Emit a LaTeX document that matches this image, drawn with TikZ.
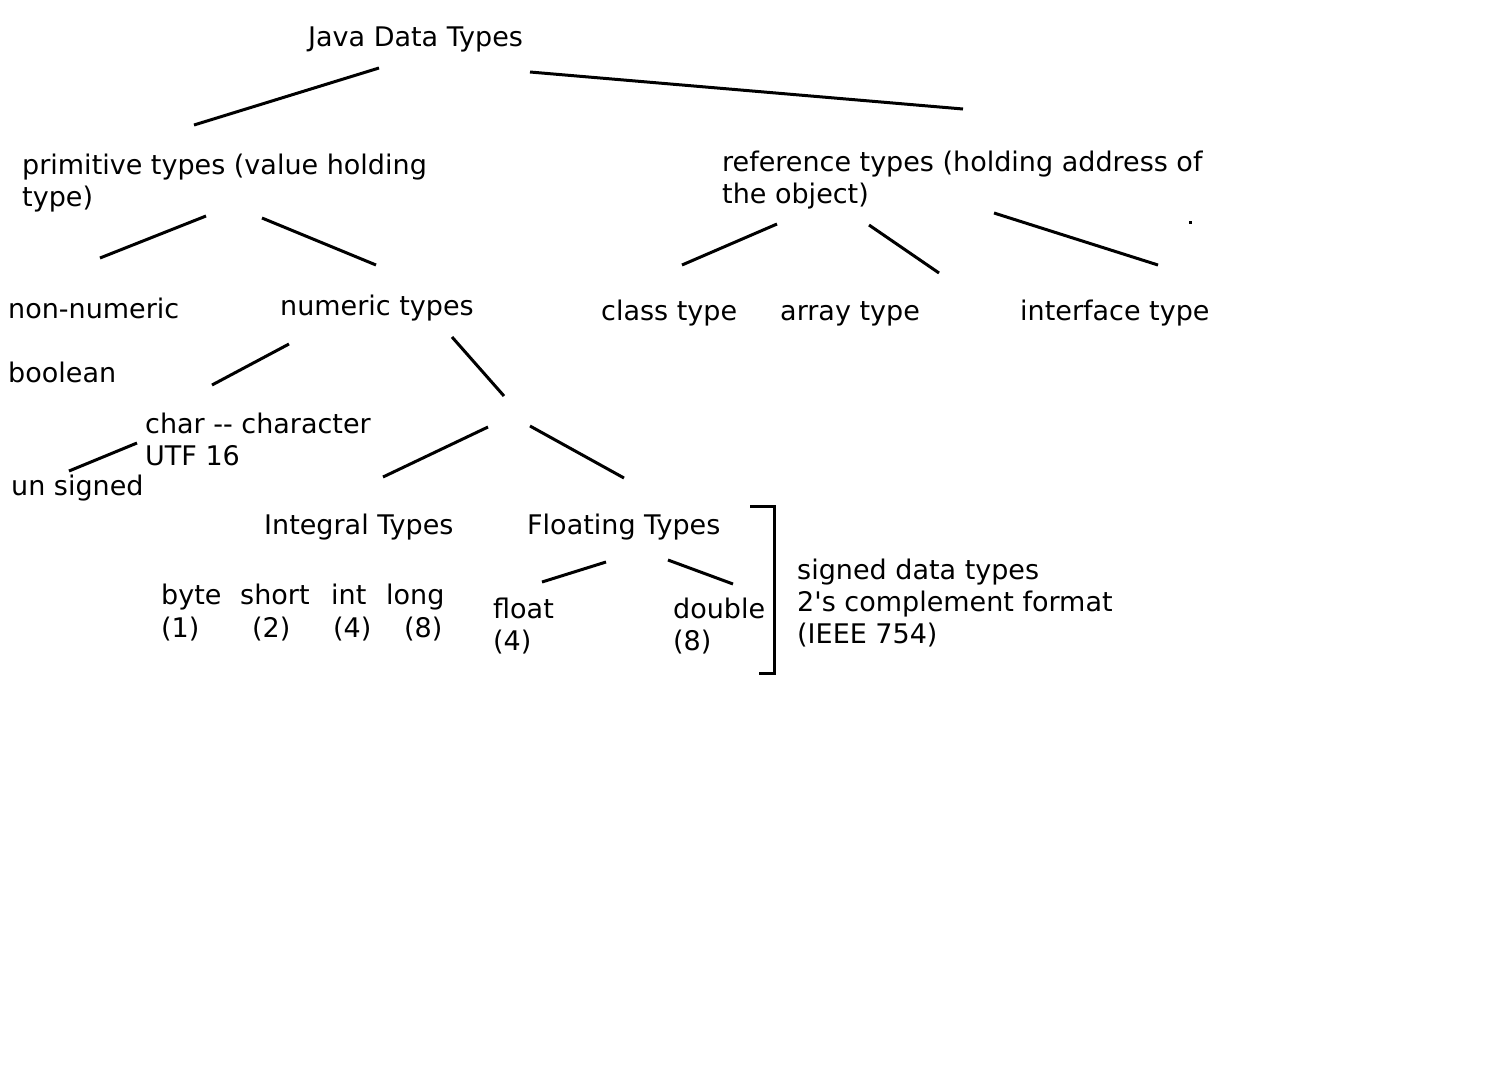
\documentclass[tikz,border=0pt]{standalone}
\usepackage{fontspec}
\setmainfont{DejaVu Sans}[Ligatures=TeXOff]
\usetikzlibrary{calc}
\begin{document}
\begin{tikzpicture}[x=1pt,y=-1pt,
  lbl/.style={anchor=base west,inner sep=0pt,font=\fontsize{27}{32}\selectfont,align=left},
  conn/.style={line width=3pt,black}]
\useasboundingbox (0,0) rectangle (1487,1085);
\fill[white] (0,0) rectangle (1487,1085);
% texts (base anchor = baseline of last line)
\node[lbl] (jdt) at (308,46) {Java Data Types};
\node[lbl] (prim) at (22,206) {primitive types (value holding\\type)};
\node[lbl] (ref) at (722,203) {reference types (holding address of\\the object)};
\node[lbl] (nonnum) at (8,318) {non-numeric};
\node[lbl] (num) at (280,315) {numeric types};
\node[lbl] (cls) at (601,320) {class type};
\node[lbl] (arr) at (780,320) {array type};
\node[lbl] (intf) at (1020,320) {interface type};
\node[lbl] (bool) at (8,382) {boolean};
\node[lbl] (chr) at (145,465) {char -- character\\UTF 16};
\node[lbl] (uns) at (11,495) {un signed};
\node[lbl] (integ) at (264,534) {Integral Types};
\node[lbl] (flt) at (527,534) {Floating Types};
\node[lbl] (byte) at (161,604) {byte};
\node[lbl] (short) at (240,604) {short};
\node[lbl] (int) at (331,604) {int};
\node[lbl] (long) at (386,604) {long};
\node[lbl] (b1) at (161,637) {(1)};
\node[lbl] (s2) at (252,637) {(2)};
\node[lbl] (i4) at (333,637) {(4)};
\node[lbl] (l8) at (404,637) {(8)};
\node[lbl] (float) at (493,650) {float\\(4)};
\node[lbl] (double) at (673,650) {double\\(8)};
\node[lbl] (signed) at (797,643) {signed data types\\2's complement format\\(IEEE 754)};
% connector end points
\coordinate (a1) at (379,68);  \coordinate (a2) at (194,125);
\coordinate (b1c) at (530,72); \coordinate (b2) at (963,109);
\coordinate (c1) at (206,216); \coordinate (c2) at (100,258);
\coordinate (d1) at (262,218); \coordinate (d2) at (376,265);
\coordinate (e1) at (777,224); \coordinate (e2) at (682,265);
\coordinate (f1) at (869,225); \coordinate (f2) at (939,273);
\coordinate (g1) at (994,213); \coordinate (g2) at (1158,265);
\coordinate (h1) at (289,344); \coordinate (h2) at (212,385);
\coordinate (k1) at (452,337); \coordinate (k2) at (504,396);
\coordinate (m1) at (137,443); \coordinate (m2) at (69,471);
\coordinate (n1) at (488,427); \coordinate (n2) at (383,477);
\coordinate (p1) at (530,426); \coordinate (p2) at (624,478);
\coordinate (q1) at (606,562); \coordinate (q2) at (542,582);
\coordinate (r1) at (668,560); \coordinate (r2) at (733,584);
\coordinate (t1) at (750,506); \coordinate (t2) at (774,506);
\coordinate (t3) at (774,673); \coordinate (t4) at (759,673);
\coordinate (dot) at (1190,222);
% connectors
\draw[conn] (a1) -- (a2);
\draw[conn] (b1c) -- (b2);
\draw[conn] (c1) -- (c2);
\draw[conn] (d1) -- (d2);
\draw[conn] (e1) -- (e2);
\draw[conn] (f1) -- (f2);
\draw[conn] (g1) -- (g2);
\draw[conn] (h1) -- (h2);
\draw[conn] (k1) -- (k2);
\draw[conn] (m1) -- (m2);
\draw[conn] (n1) -- (n2);
\draw[conn] (p1) -- (p2);
\draw[conn] (q1) -- (q2);
\draw[conn] (r1) -- (r2);
\draw[conn] (t1) -- (t2) -- (t3) -- (t4);
\fill[black] ($(dot)+(-1.5,-1.5)$) rectangle ($(dot)+(1.5,1.5)$);
\end{tikzpicture}
\end{document}
